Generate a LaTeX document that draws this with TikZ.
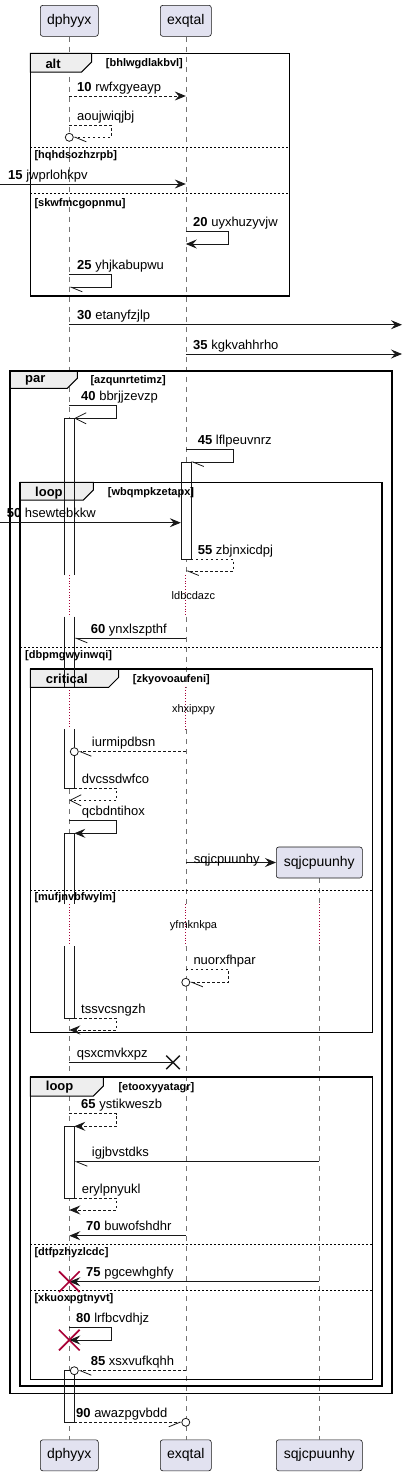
\documentclass[tikz,border=0pt]{standalone}
\usepackage{fontspec}
\setmainfont{Liberation Sans}
\usetikzlibrary{arrows.meta,shapes.misc}
\definecolor{partfill}{HTML}{E2E2F0}
\definecolor{partline}{HTML}{181818}
\definecolor{tabfill}{HTML}{EEEEEE}
\definecolor{crimson}{HTML}{A80036}
\newcommand{\msgfont}{\fontsize{13}{15}\selectfont}
\tikzset{%
    part/.style={draw=partline, fill=partfill, rounded corners=2.5pt, line width=0.6pt,
        minimum height=31pt, inner sep=0pt, font=\fontsize{14}{16}\selectfont},
    life/.style={draw=black!55, line width=0.5pt, dash pattern=on 5pt off 5pt},
    delay/.style={draw=crimson, line width=0.8pt, dotted},
    actbar/.style={draw=partline, line width=0.6pt},
    frame/.style={draw=black, line width=1.5pt},
    tab/.style={draw=black, fill=tabfill, line width=1pt},
    sep/.style={draw=black, line width=0.7pt, dash pattern=on 2pt off 2pt},
    sync/.style={draw=partline, line width=0.8pt},
    reply/.style={sync, dash pattern=on 2.5pt off 2.5pt},
    tipfull/.style={-{Stealth[length=11pt,width=9pt,inset=4pt]}},
    tipopen/.style={-{Straight Barb[length=11pt,width=11pt]}},
    tiphalf/.style={-{Straight Barb[left,length=11pt,width=9pt]}},
    tiphalfr/.style={-{Straight Barb[right,length=11pt,width=9pt]}},
    endcirc/.style={sync, fill=white},
    msg/.style={anchor=base west, inner sep=0pt, font=\msgfont},
    kw/.style={anchor=west, inner sep=0pt, font=\bfseries\fontsize{13}{15}\selectfont},
    guard/.style={anchor=west, inner sep=0pt, font=\bfseries\fontsize{11}{13}\selectfont},
    dlytxt/.style={inner sep=0pt, font=\fontsize{11}{13}\selectfont},
    killx/.style={cross out, draw=crimson, line width=1.7pt, minimum size=19pt, inner sep=0pt},
    lostx/.style={cross out, draw=partline, line width=1.5pt, minimum size=12pt, inner sep=0pt}
}

\begin{document}
\begin{tikzpicture}[x=1pt,y=-1pt]
    \useasboundingbox (0,0) rectangle (402,1476);

    \coordinate (lft) at (0,0);
    \coordinate (rgt) at (402,0);
    \coordinate (dbR) at (74.3,0);
    \coordinate (ebL) at (180.8,0);
    \coordinate (ebR) at (190.8,0);

    % participants
    \node[part, minimum width=58pt] (dT) at (69.3,20.8) {dphyyx};
    \node[part, minimum width=51pt] (eT) at (185.8,20.8) {exqtal};
    \node[part, minimum width=58pt] (dB) at (69.3,1455.3) {dphyyx};
    \node[part, minimum width=51pt] (eB) at (185.8,1455.3) {exqtal};
    \node[part, minimum width=86pt] (sB) at (319.3,1455.3) {sqjcpuunhy};

    % lifelines
    \draw[life] (dT.south) -- (dT |- 0,575);
    \draw[delay] (dT |- 0,575) -- (dT |- 0,616.7);
    \draw[life] (dT |- 0,616.7) -- (dT |- 0,687);
    \draw[delay] (dT |- 0,687) -- (dT |- 0,729.3);
    \draw[life] (dT |- 0,729.3) -- (dT |- 0,904);
    \draw[delay] (dT |- 0,904) -- (dT |- 0,946);
    \draw[life] (dT |- 0,946) -- (dB.north);

    \draw[life] (eT.south) -- (eT |- 0,575);
    \draw[delay] (eT |- 0,575) -- (eT |- 0,616.7);
    \draw[life] (eT |- 0,616.7) -- (eT |- 0,687);
    \draw[delay] (eT |- 0,687) -- (eT |- 0,729.3);
    \draw[life] (eT |- 0,729.3) -- (eT |- 0,904);
    \draw[delay] (eT |- 0,904) -- (eT |- 0,946);
    \draw[life] (eT |- 0,946) -- (eB.north);

    \draw[life] (sB |- 0,878.3) -- (sB |- 0,904);
    \draw[delay] (sB |- 0,904) -- (sB |- 0,946);
    \draw[life] (sB |- 0,946) -- (sB.north);

    % activation bars, fill
    \fill[white] (64.3,418.3) rectangle (74.3,575);
    \fill[white] (64.3,616.7) rectangle (74.3,687);
    \fill[white] (64.3,729.3) rectangle (74.3,788.3);
    \fill[white] (64.3,833.3) rectangle (74.3,904);
    \fill[white] (64.3,946) rectangle (74.3,1018.3);
    \fill[white] (64.3,1126.3) rectangle (74.3,1198.3);
    \fill[white] (64.3,1370.7) rectangle (74.3,1422.3);
    \fill[white] (180.8,462) rectangle (190.8,559);

    % alt
    \draw[tab] (30.3,53.3) -- (91.7,53.3) -- (91.7,62) -- (81.7,72) -- (30.3,72) -- cycle;
    \draw[frame] (30.3,53.3) rectangle (289.7,296);
    \draw[sep] (30.3,147) -- (289.7,147);
    \draw[sep] (30.3,193) -- (289.7,193);

    % par
    \draw[tab] (10,371) -- (77.3,371) -- (77.3,378.3) -- (67.3,388.3) -- (10,388.3) -- cycle;
    \draw[frame] (10,371) rectangle (392,1393.3);

    % loop
    \draw[tab] (20,482.3) -- (93.3,482.3) -- (93.3,490) -- (83.3,500) -- (20,500) -- cycle;
    \draw[frame] (20,482.3) rectangle (382,1386);
    \draw[sep] (20,647.3) -- (382,647.3);

    % critical
    \draw[tab] (30.3,669) -- (118.7,669) -- (118.7,677.3) -- (108.7,687.3) -- (30.3,687.3) -- cycle;
    \draw[frame] (30.3,669) rectangle (372.7,1032.7);
    \draw[sep] (30.3,890.3) -- (372.7,890.3);

    % loop
    \draw[tab] (30.3,1077) -- (103.3,1077) -- (103.3,1086) -- (93.3,1096) -- (30.3,1096) -- cycle;
    \draw[frame] (30.3,1077) rectangle (372.7,1379.3);
    \draw[sep] (30.3,1244) -- (372.7,1244);
    \draw[sep] (30.3,1290) -- (372.7,1290);

    % activation bars, outline
    \draw[actbar] (64.3,575) -- (64.3,418.3) -- (74.3,418.3) -- (74.3,575);
    \draw[actbar] (64.3,616.7) -- (64.3,687) (74.3,616.7) -- (74.3,687);
    \draw[actbar] (64.3,729.3) -- (64.3,788.3) -- (74.3,788.3) -- (74.3,729.3);
    \draw[actbar] (64.3,904) -- (64.3,833.3) -- (74.3,833.3) -- (74.3,904);
    \draw[actbar] (64.3,946) -- (64.3,1018.3) -- (74.3,1018.3) -- (74.3,946);
    \draw[actbar] (64.3,1126.3) rectangle (74.3,1198.3);
    \draw[actbar] (64.3,1370.7) rectangle (74.3,1422.3);
    \draw[actbar] (180.8,462) rectangle (190.8,559);

    % created participant
    \node[part, minimum width=86pt] (sC) at (319.3,862.5) {sqjcpuunhy};

    % messages
    \draw[reply, tipfull] (dT |- 0,96) -- (eT |- 0,96);
    \draw[reply, tiphalf, shorten >=4pt] (dT |- 0,125) -| (111,137.3) -- (dT |- 0,137.3);
    \draw[endcirc] (dT |- 0,137.3) circle[radius=4];
    \draw[sync, tipfull] (lft |- 0,184) -- (eT |- 0,184);
    \draw[sync, tipfull] (eT |- 0,231.7) -| (228.7,244) -- (eT |- 0,244);
    \draw[sync, tiphalf] (dT |- 0,274.3) -| (111.3,287.3) -- (dT |- 0,287.3);
    \draw[sync, tipfull] (dT |- 0,324.7) -- (rgt |- 0,324.7);
    \draw[sync, tipfull] (eT |- 0,354) -- (rgt |- 0,354);
    \draw[sync, tipopen] (dT |- 0,405.7) -| (116.7,418.3) -- (dbR |- 0,418.3);
    \draw[sync, tiphalf] (eT |- 0,449.3) -| (233.3,462) -- (ebR |- 0,462);
    \draw[sync, tipfull] (lft |- 0,522.7) -- (ebL |- 0,522.7);
    \draw[reply, tiphalf] (ebR |- 0,559) -| (233.3,571) -- (eT |- 0,571);
    \draw[sync, tiphalf] (eT |- 0,638.3) -- (dbR |- 0,638.3);
    \draw[reply, tiphalf, shorten >=4pt] (eT |- 0,751.7) -- (dbR |- 0,751.7);
    \draw[endcirc] (dbR |- 0,751.7) circle[radius=4];
    \draw[reply, tipopen] (dbR |- 0,788.3) -| (116.7,800.3) -- (dT |- 0,800.3);
    \draw[sync, tipfull] (dT |- 0,820.3) -| (116.7,833.3) -- (dbR |- 0,833.3);
    \draw[sync, tipfull] (eT |- sC) -- (sC.west);
    \draw[reply, tiphalf, shorten >=4pt] (eT |- 0,969.3) -| (228.7,982.3) -- (eT |- 0,982.3);
    \draw[endcirc] (eT |- 0,982.3) circle[radius=4];
    \draw[reply, tipfull] (dbR |- 0,1018.3) -| (116.7,1030) -- (dT |- 0,1030);
    \node[lostx] (qx) at (173,1062.3) {};
    \draw[sync] (dT |- qx) -- (qx.center);
    \draw[reply, tipfull] (dT |- 0,1113.7) -| (116.7,1126.3) -- (dbR |- 0,1126.3);
    \draw[sync, tiphalf] (sB |- 0,1161.7) -- (dbR |- 0,1161.7);
    \draw[reply, tipfull] (dbR |- 0,1198.3) -| (116.7,1210) -- (dT |- 0,1210);
    \draw[sync, tipfull] (eT |- 0,1235.7) -- (dT |- 0,1235.7);
    \draw[sync, tipfull] (sB |- 0,1281.7) -- (dT |- 0,1281.7);
    \node[killx] (kx75) at (dT |- 0,1281.7) {};
    \draw[sync, tipfull] (dT |- 0,1327.3) -| (111.3,1340) -- (dT |- 0,1340);
    \node[killx] (kx80) at (dT |- 0,1340) {};
    \draw[reply, tiphalf, shorten >=4pt] (eT |- 0,1370.7) -- (dbR |- 0,1370.7);
    \draw[endcirc] (dbR |- 0,1370.7) circle[radius=4];
    \draw[reply, tiphalfr, shorten >=4pt] (dbR |- 0,1422.3) -- (eT |- 0,1422.3);
    \draw[endcirc] (eT |- 0,1422.3) circle[radius=4];

    % group texts
    \node[kw] (kalt) at (45.3,64) {alt};
    \node[guard] (galt) at (105.7,64) {[bhlwgdlakbvl]};
    \node[guard] (galt2) at (34.3,156) {[hqhdsozhzrpb]};
    \node[guard] (galt3) at (34.3,203.3) {[skwfmcgopnmu]};
    \node[kw] (kpar) at (25,380.3) {par};
    \node[guard] (gpar) at (90.3,381) {[azqunrtetimz]};
    \node[kw] (kloop) at (35,492.7) {loop};
    \node[guard] (gloop) at (107.7,492.7) {[wbqmpkzetapx]};
    \node[guard] (gloop2) at (25,655.7) {[dbpmgwyinwqi]};
    \node[kw] (kcrit) at (45.7,679.3) {critical};
    \node[guard] (gcrit) at (132.7,679.3) {[zkyovoaufeni]};
    \node[guard] (gcrit2) at (34.3,897.3) {[mufjnvbfwylm]};
    \node[kw] (kloopb) at (45.7,1087.3) {loop};
    \node[guard] (gloopb) at (118.3,1087.3) {[etooxyyatagr]};
    \node[guard] (gloopb2) at (34.3,1252.7) {[dtfpzhyzlcdc]};
    \node[guard] (gloopb3) at (34.3,1299) {[xkuoxpgtnyvt]};

    % delays
    \node[dlytxt] (dly1) at (193.4,596) {ldbcdazc};
    \node[dlytxt] (dly2) at (193.4,709.3) {xhxipxpy};
    \node[dlytxt] (dly3) at (193.5,926) {yfmknkpa};

    % message labels
    \node[msg] (l10) at (77,91) {\textbf{10} rwfxgyeayp};
    \node[msg] (laou) at (77,120) {aoujwiqjbj};
    \node[msg] (l15) at (8,179) {\textbf{15} jwprlohkpv};
    \node[msg] (l20) at (193,226.7) {\textbf{20} uyxhuzyvjw};
    \node[msg] (l25) at (77,269.3) {\textbf{25} yhjkabupwu};
    \node[msg] (l30) at (77,319.7) {\textbf{30} etanyfzjlp};
    \node[msg] (l35) at (193,349) {\textbf{35} kgkvahhrho};
    \node[msg] (l40) at (81,400.7) {\textbf{40} bbrjjzevzp};
    \node[msg] (l45) at (197.7,444.3) {\textbf{45} lflpeuvnrz};
    \node[msg] (l50) at (6.7,517.7) {\textbf{50} hsewtebkkw};
    \node[msg] (l55) at (197.7,554) {\textbf{55} zbjnxicdpj};
    \node[msg] (l60) at (90.7,633.3) {\textbf{60} ynxlszpthf};
    \node[msg] (liur) at (91.7,746.7) {iurmipdbsn};
    \node[msg] (ldvc) at (81.7,783.3) {dvcssdwfco};
    \node[msg] (lqcb) at (81.7,815.3) {qcbdntihox};
    \node[msg] (lsqj) at (193.7,863.3) {sqjcpuunhy};
    \node[msg] (lnuo) at (193.3,964.3) {nuorxfhpar};
    \node[msg] (ltss) at (81,1013.3) {tssvcsngzh};
    \node[msg] (lqsx) at (76.7,1057.3) {qsxcmvkxpz};
    \node[msg] (l65) at (81,1108.7) {\textbf{65} ystikweszb};
    \node[msg] (ligj) at (91.7,1156.7) {igjbvstdks};
    \node[msg] (lery) at (81.7,1193.3) {erylpnyukl};
    \node[msg] (l70) at (86,1230.7) {\textbf{70} buwofshdhr};
    \node[msg] (l75) at (86,1276.7) {\textbf{75} pgcewhghfy};
    \node[msg] (l80) at (76,1322.3) {\textbf{80} lrfbcvdhjz};
    \node[msg] (l85) at (90.7,1365.7) {\textbf{85} xsxvufkqhh};
    \node[msg] (l90) at (76,1417.3) {\textbf{90} awazpgvbdd};
\end{tikzpicture}
\end{document}
